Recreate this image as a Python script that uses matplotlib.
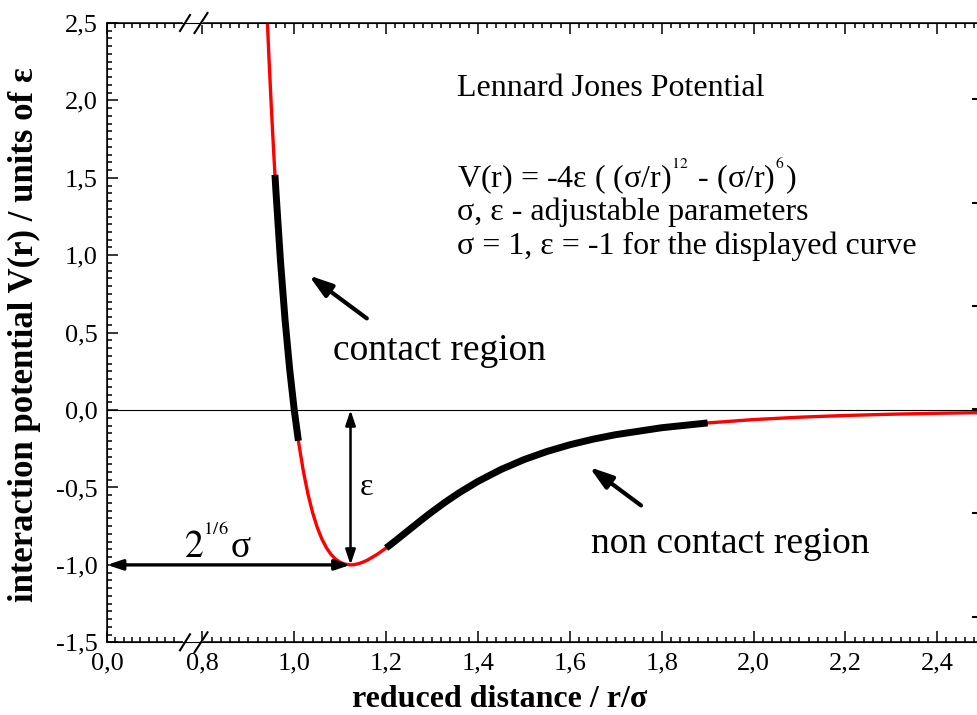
import numpy as np
import matplotlib
matplotlib.use("Agg")
import matplotlib.pyplot as plt
from matplotlib.ticker import FixedLocator, FuncFormatter, NullFormatter

plt.rcParams['font.family'] = ['Liberation Serif', 'DejaVu Serif']
plt.rcParams['mathtext.fontset'] = 'stix'

# values
r = [0.940, 0.945, 0.950, 0.955, 0.958, 0.960, 0.970, 0.980, 0.990, 1.000,
     1.009, 1.010, 1.020, 1.030, 1.040, 1.050, 1.060, 1.070, 1.080, 1.090,
     1.100, 1.110, 1.1225, 1.130, 1.140, 1.150, 1.160, 1.180, 1.200, 1.220,
     1.250, 1.280, 1.300, 1.330, 1.360, 1.400, 1.450, 1.500, 1.550, 1.600,
     1.650, 1.700, 1.800, 1.900, 2.000, 2.100, 2.200, 2.300, 2.400, 2.500]
V = [2.6065, 2.2699, 1.9610, 1.6778, 1.5193, 1.4182, 0.9629, 0.5819, 0.2641, 0.0,
     -0.1984, -0.2184, -0.3979, -0.5444, -0.6629, -0.7575, -0.8320, -0.8893, -0.9322, -0.9629,
     -0.9834, -0.9952, -1.0, -0.9985, -0.9921, -0.9817, -0.9679, -0.9328, -0.8910, -0.8452,
     -0.7737, -0.7027, -0.6570, -0.5921, -0.5323, -0.4607, -0.3841, -0.3203, -0.2677, -0.2242,
     -0.1884, -0.1589, -0.1141, -0.0832, -0.0615, -0.0461, -0.0350, -0.0268, -0.0208, -0.0163]
r = np.array(r)
V = np.array(V)

contact = (0.958, 1.009)
non_contact = (1.2, 1.9)
r_min, V_min = 1.1225, -1.0

x_major = [0.0, 0.8, 1.0, 1.2, 1.4, 1.6, 1.8, 2.0, 2.2, 2.4]
y_major = [-1.5, -1.0, -0.5, 0.0, 0.5, 1.0, 1.5, 2.0, 2.5]

# broken x axis: 0..0.18 and 0.8..2.5 shown, gap squeezed
R_KNOTS = [-1.0, 0.0, 0.18, 0.8, 4.0]
U_KNOTS = [-1.0, 0.0, 0.1633, 0.2077, 3.4077]

def fwd(x):
    return np.interp(x, R_KNOTS, U_KNOTS)

def inv(u):
    return np.interp(u, U_KNOTS, R_KNOTS)

W, H = 871.6, 619.3
fig = plt.figure(figsize=(9.77, 7.15), dpi=100)
ax = fig.add_axes([107 / 977, (715 - 642.3) / 715, W / 977, H / 715])
ax.set_xscale('function', functions=(fwd, inv))
ax.set_xlim(0, 2.49)
ax.set_ylim(-1.5, 2.5)

ax.axhline(0, color='black', lw=0.8, zorder=1)
ax.plot(r, V, color='red', lw=2.4, zorder=2)
for lo, hi in (contact, non_contact):
    m = (r >= lo) & (r <= hi)
    ax.plot(r[m], V[m], color='black', lw=5, solid_capstyle='butt', zorder=3)

ax.annotate('', xy=(r_min, 0), xytext=(r_min, V_min),
            arrowprops=dict(arrowstyle='<|-|>,head_length=0.9,head_width=0.3',
                            color='black', lw=1.8, shrinkA=0, shrinkB=0, mutation_scale=10))
ax.annotate('', xy=(0.0, V_min), xytext=(r_min, V_min),
            arrowprops=dict(arrowstyle='<|-|>,head_length=0.9,head_width=0.3',
                            color='black', lw=2.4, shrinkA=0, shrinkB=0, mutation_scale=10))
pointer = dict(arrowstyle='-|>,head_length=1.4,head_width=0.45', color='black',
               lw=3, shrinkA=0, shrinkB=0, mutation_scale=10)
ax.annotate('', xy=(1.0316, 0.870), xytext=(1.158, 0.592), arrowprops=pointer)
ax.annotate('', xy=(1.6423, -0.368), xytext=(1.755, -0.616), arrowprops=pointer)

ax.text(1.143, -0.551, 'ε', fontsize=23, va='baseline')
ax.text(0.908, -0.958, '$2^{^{1/6}}$σ', fontsize=27, ha='right', va='baseline')
ax.text(1.0843, 0.321, 'contact region', fontsize=27, va='baseline')
ax.text(1.646, -0.924, 'non contact region', fontsize=27, va='baseline')

tx = 1.3543
ax.text(tx, 2.026, 'Lennard Jones Potential', fontsize=23, va='baseline')
ax.text(tx, 1.441, 'V(r) = -4ε ( (σ/r)$^{^{12}}$ - (σ/r)$^{^{6}}$)', fontsize=23, va='baseline')
ax.text(tx, 1.226, 'σ, ε - adjustable parameters', fontsize=23, va='baseline')
ax.text(tx, 1.010, 'σ = 1, ε = -1 for the displayed curve', fontsize=23, va='baseline')

# ticks
fmt = FuncFormatter(lambda v, p: f"{v:.1f}".replace('.', ','))
x_minor = list(np.round(np.arange(0.02, 0.17, 0.02), 2)) + \
    [v for v in np.round(np.arange(0.82, 2.49, 0.02), 2) if v not in x_major]
ax.xaxis.set_major_locator(FixedLocator(x_major))
ax.xaxis.set_minor_locator(FixedLocator(x_minor))
ax.yaxis.set_major_locator(FixedLocator(y_major))
ax.yaxis.set_minor_locator(FixedLocator(np.round(np.arange(-1.5, 2.5, 0.05), 2)))
ax.xaxis.set_major_formatter(fmt)
ax.yaxis.set_major_formatter(fmt)
ax.xaxis.set_minor_formatter(NullFormatter())
ax.tick_params(which='both', direction='in', top=True, right=False, width=1.1,
               labelsize=19)
ax.tick_params(which='major', length=8)
ax.tick_params(which='minor', length=3.5)
ax.tick_params(axis='x', pad=7)
ax.tick_params(axis='y', pad=7)
for s in ax.spines.values():
    s.set_linewidth(1.1)

# sparse ticks on the right side
ax2 = ax.twinx()
ax2.set_ylim(-1.5, 2.5)
ax2.set_yticks([2.01, 1.34, 0.675, 0.005, -0.665, -1.335])
ax2.tick_params(direction='in', length=5, width=1.5, labelright=False)
ax2.spines['right'].set_linewidth(1.1)

ax.set_xlabel('reduced distance / r/σ', fontsize=23, fontweight='bold')
ax.set_ylabel('interaction potential V(r) / units of ε', fontsize=25, fontweight='bold')
ax.xaxis.set_label_coords((500 - 107) / W, (642.3 - 685) / H)
ax.yaxis.set_label_coords((41 - 107) / W, (642.3 - 335) / H)

# axis break marks
x1, x2 = (185 - 107) / W, (201 - 107) / W
for yb in (0.0, 1.0):
    ax.plot([x1, x2], [yb, yb], transform=ax.transAxes, color='white', lw=3,
            clip_on=False, zorder=10)
    ax.plot([x1 - 5 / W, x1 + 5 / W], [yb - 8 / H, yb + 8 / H], transform=ax.transAxes,
            color='black', lw=1.5, clip_on=False, zorder=11)
    ax.plot([x2 - 6.5 / W, x2 + 6.5 / W], [yb - 10 / H, yb + 10 / H], transform=ax.transAxes,
            color='black', lw=1.5, clip_on=False, zorder=11)

fig.savefig('out.png', dpi=100)
